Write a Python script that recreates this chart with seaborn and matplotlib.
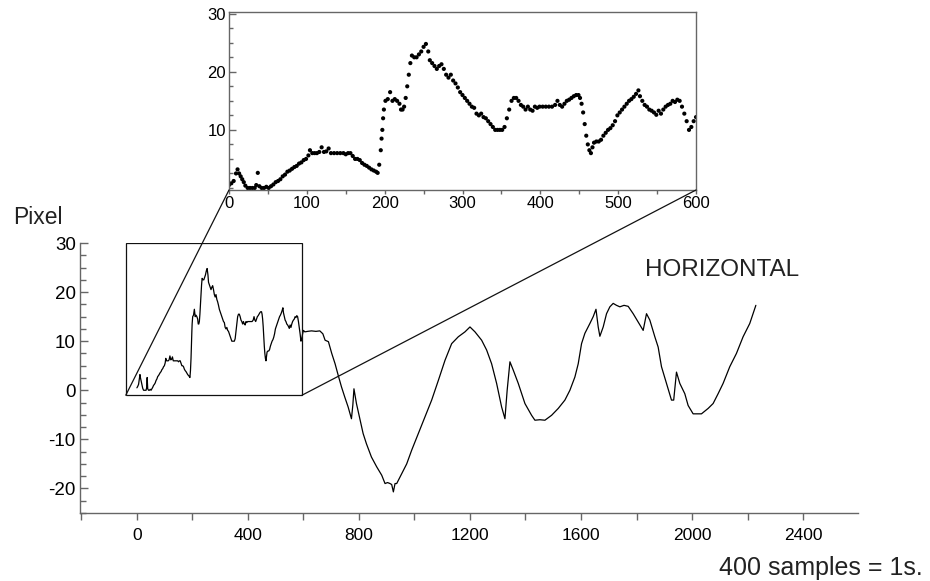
import matplotlib
matplotlib.use('Agg')
import matplotlib.pyplot as plt
from matplotlib.patches import Rectangle, ConnectionPatch
from matplotlib.ticker import MultipleLocator
import seaborn as sns
import pandas as pd

# samples 0 - 600 (shown again as dots in the zoomed inset)
samples_a = [0, 3, 6, 9, 11, 13, 15, 17, 19, 21, 24, 27, 30, 33, 35, 37, 39, 42, 45, 48,
             51, 54, 57, 60, 63, 66, 69, 72, 75, 78, 81, 84, 87, 90, 93, 96, 99, 102, 104, 107,
             110, 113, 116, 119, 122, 125, 128, 131, 135, 139, 143, 147, 150, 153, 156, 159, 162, 165, 168, 171,
             174, 177, 180, 183, 186, 189, 191, 193, 195, 196, 197, 198, 199, 201, 204, 207, 210, 213, 216, 219,
             221, 223, 225, 227, 229, 231, 233, 235, 238, 241, 244, 247, 250, 253, 256, 258, 261, 264, 267, 270,
             273, 276, 279, 282, 285, 288, 291, 294, 297, 300, 303, 306, 309, 312, 315, 318, 321, 324, 327, 330,
             333, 336, 339, 342, 345, 348, 351, 354, 357, 360, 363, 366, 369, 372, 375, 378, 381, 384, 387, 390,
             393, 396, 399, 403, 407, 411, 415, 419, 422, 425, 428, 431, 434, 437, 440, 443, 446, 449, 451, 453,
             455, 457, 459, 461, 463, 465, 467, 469, 472, 475, 478, 481, 484, 487, 490, 493, 496, 499, 502, 505,
             508, 511, 514, 517, 520, 523, 526, 528, 531, 534, 537, 540, 543, 546, 549, 552, 555, 558, 561, 564,
             567, 570, 573, 576, 579, 582, 585, 588, 591, 594, 597, 600]
pixel_a = [0.5, 0.8, 1.2, 2.5, 3.2, 2.5, 2.0, 1.5, 1.0, 0.4, 0.0, 0.0, 0.0, 0.0, 0.5, 2.6, 0.3, 0.0, 0.0, 0.2,
           0.0, 0.3, 0.6, 1.0, 1.2, 1.5, 2.0, 2.3, 2.8, 3.0, 3.3, 3.6, 3.8, 4.2, 4.4, 4.8, 5.0, 5.6, 6.5, 6.0,
           6.0, 6.0, 6.2, 7.0, 6.2, 6.3, 6.8, 6.0, 6.0, 6.0, 6.0, 6.0, 5.8, 6.0, 6.0, 5.5, 5.0, 5.0, 4.8, 4.3,
           4.0, 3.8, 3.5, 3.2, 3.0, 2.8, 2.6, 4.0, 6.5, 8.5, 10.0, 12.0, 13.5, 15.0, 15.3, 16.5, 15.0, 15.3, 15.0, 14.5,
           13.5, 13.5, 14.0, 15.5, 17.5, 19.5, 21.5, 22.8, 22.5, 22.5, 23.0, 23.5, 24.3, 24.8, 23.5, 22.0, 21.5, 21.0, 20.5, 21.0,
           21.3, 20.5, 19.5, 19.0, 19.5, 18.5, 18.0, 17.3, 16.5, 16.0, 15.5, 15.0, 14.5, 14.0, 13.8, 12.8, 12.5, 12.8, 12.2, 12.0,
           11.5, 11.0, 10.5, 10.0, 10.0, 10.0, 10.0, 10.5, 12.0, 13.5, 15.0, 15.5, 15.5, 15.0, 14.3, 14.0, 13.5, 14.0, 13.5, 13.3,
           14.0, 13.8, 14.0, 14.0, 14.0, 14.0, 14.0, 14.3, 15.0, 14.3, 14.0, 14.5, 15.0, 15.2, 15.5, 15.8, 16.0, 16.0, 15.5, 14.5,
           13.0, 11.0, 9.0, 7.5, 6.5, 6.0, 7.0, 7.8, 8.0, 8.0, 8.3, 9.0, 9.5, 10.0, 10.3, 10.8, 11.5, 12.5, 13.0, 13.5,
           14.0, 14.5, 15.0, 15.3, 15.7, 16.2, 16.8, 15.8, 15.0, 14.3, 14.0, 13.5, 13.3, 13.0, 12.6, 13.3, 12.8, 13.5, 14.0, 14.3,
           14.5, 15.0, 14.8, 15.2, 15.0, 14.0, 12.8, 11.5, 10.0, 10.5, 11.5, 12.2]

# samples after 600
samples_b = [605, 615, 629, 645, 659, 670, 678, 690, 702, 714, 725, 737, 749, 761, 773, 778, 782, 786, 791, 803,
             815, 827, 845, 864, 882, 894, 903, 912, 918, 924, 930, 936, 954, 972, 990, 1014, 1038, 1062, 1086, 1110,
             1134, 1158, 1182, 1200, 1218, 1242, 1260, 1278, 1296, 1314, 1326, 1334, 1344, 1356, 1374, 1398, 1422, 1434, 1452, 1470,
             1494, 1518, 1542, 1560, 1578, 1590, 1602, 1614, 1632, 1644, 1654, 1662, 1668, 1680, 1692, 1704, 1716, 1728, 1740, 1755,
             1770, 1788, 1806, 1824, 1836, 1848, 1866, 1878, 1890, 1908, 1926, 1934, 1944, 1956, 1974, 1986, 2004, 2020, 2034, 2058,
             2076, 2094, 2112, 2136, 2160, 2184, 2208, 2230]
pixel_b = [11.9, 12.0, 12.1, 12.0, 12.1, 11.5, 10.2, 9.9, 7.5, 5.4, 3.1, 0.7, -1.4, -3.4, -5.8, -3.0, 0.3, -1.0, -2.7, -5.8,
           -8.8, -10.9, -13.6, -15.6, -17.3, -19.0, -18.8, -19.0, -19.2, -20.7, -19.0, -19.0, -17.0, -15.0, -12.2, -8.8, -5.4, -2.0, 2.0, 6.1,
           9.5, 10.9, 11.9, 12.9, 11.9, 10.2, 8.2, 5.4, 1.4, -3.4, -5.8, 0.0, 5.8, 4.1, 1.4, -2.7, -5.1, -6.1, -6.0, -6.1,
           -5.1, -3.7, -2.0, 0.0, 2.7, 5.4, 9.5, 11.6, 13.6, 15.0, 16.5, 12.9, 11.0, 12.9, 15.6, 17.0, 17.7, 17.3, 17.0, 17.3,
           17.1, 15.6, 13.9, 12.2, 15.6, 14.3, 10.9, 8.8, 4.8, 1.4, -2.0, -2.0, 3.7, 1.4, -0.7, -3.1, -4.8, -4.8, -4.8, -3.7,
           -2.7, -0.7, 1.4, 4.8, 7.5, 10.9, 13.6, 17.3]

main_xticks = [0, 400, 800, 1200, 1600, 2000, 2400]
main_yticks = [-20, -10, 0, 10, 20, 30]
inset_xticks = [0, 100, 200, 300, 400, 500, 600]
inset_yticks = [10, 20, 30]

df_a = pd.DataFrame({'samples': samples_a, 'pixel': pixel_a})
df = pd.concat([df_a, pd.DataFrame({'samples': samples_b, 'pixel': pixel_b})], ignore_index=True)

sns.set_theme(style='ticks')
plt.rcParams['font.family'] = ['Liberation Sans', 'DejaVu Sans']
plt.rcParams['axes.unicode_minus'] = False

spine_col = '#666666'
text_col = '#222222'

fig = plt.figure(figsize=(9.3, 5.81), dpi=100)

# main plot
ax = fig.add_axes([80 / 930, 68 / 581, 778 / 930, 270 / 581])
sns.lineplot(data=df, x='samples', y='pixel', ax=ax, color='black', linewidth=0.9)
ax.set_xlim(-205, 2598)
ax.set_ylim(-25, 30)
ax.set_xticks(main_xticks)
ax.set_yticks(main_yticks)
ax.xaxis.set_minor_locator(MultipleLocator(200))
ax.yaxis.set_minor_locator(MultipleLocator(2.5))
ax.set_xlabel('')
ax.set_ylabel('')
sns.despine(ax=ax)
for s in ['left', 'bottom']:
    ax.spines[s].set_color(spine_col)
    ax.spines[s].set_linewidth(1.0)
ax.tick_params(axis='x', which='both', direction='out', length=5, width=1,
               color=spine_col, labelsize=12.5, pad=6, labelcolor='black')
ax.tick_params(axis='y', which='major', direction='in', length=6, width=1,
               color=spine_col, labelsize=13.5, pad=3, labelcolor='black')
ax.tick_params(axis='y', which='minor', direction='in', length=4, width=1, color=spine_col)

# zoom box on the main plot
ax.add_patch(Rectangle((-40, -1), 635, 31, fill=False, edgecolor='#111111', linewidth=0.9, zorder=3))

# inset with the first 600 samples as dots
axin = fig.add_axes([229 / 930, 391 / 581, 467 / 930, 178 / 581])
sns.scatterplot(data=df_a, x='samples', y='pixel', ax=axin, color='black', s=9,
                linewidth=0, edgecolor='none')
axin.set_xlim(0, 600)
axin.set_ylim(-0.35, 30.3)
axin.set_xticks(inset_xticks)
axin.set_yticks(inset_yticks)
axin.xaxis.set_minor_locator(MultipleLocator(50))
axin.yaxis.set_minor_locator(MultipleLocator(2.5))
axin.set_xlabel('')
axin.set_ylabel('')
for s in axin.spines.values():
    s.set_color(spine_col)
    s.set_linewidth(1.0)
axin.tick_params(axis='x', which='both', direction='out', length=3, width=1,
                 color=spine_col, labelsize=12, pad=1, labelcolor='black')
axin.tick_params(axis='y', which='major', direction='in', length=5, width=1,
                 color=spine_col, labelsize=12, pad=2, labelcolor='black')
axin.tick_params(axis='y', which='minor', direction='in', length=3, width=1, color=spine_col)

# lines from the box to the inset
for xa, xb in [(-40, 0), (595, 1)]:
    con = ConnectionPatch(xyA=(xa, -1), coordsA=ax.transData,
                          xyB=(xb, 0), coordsB=axin.transAxes,
                          color='#111111', linewidth=0.9)
    fig.add_artist(con)

fig.text(13 / 930, (581 - 218) / 581, 'Pixel', fontsize=16.5, color=text_col, va='center', ha='left')
fig.text(645 / 930, (581 - 270) / 581, 'HORIZONTAL', fontsize=17.5, color=text_col, va='center', ha='left')
fig.text(923 / 930, (581 - 568) / 581, '400 samples = 1s.', fontsize=18, color=text_col, va='center', ha='right')

plt.savefig('out.png', dpi=100)
